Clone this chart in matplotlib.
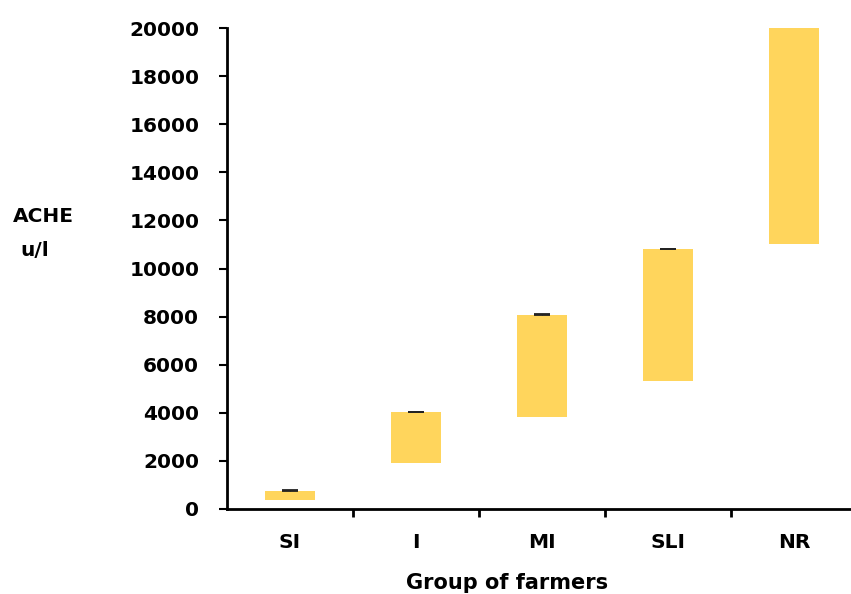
import matplotlib.pyplot as plt
import numpy as np

groups = ['SI', 'I', 'MI', 'SLI', 'NR']
low = [370, 1900, 3820, 5320, 11000]
high = [760, 4020, 8060, 10800, 20000]
err_up = [40, 30, 30, 30]  # NR has no visible cap

bar_color = '#FFD55C'

fig = plt.figure(figsize=(8.51, 5.94), dpi=100)
ax = fig.add_axes([227 / 851, 85 / 594, 624 / 851, 481 / 594])

x = np.arange(len(groups))
heights = np.array(high) - np.array(low)
ax.bar(x, heights, bottom=low, width=0.4, color=bar_color, zorder=2)
ax.errorbar(x[:4], high[:4], yerr=[np.zeros(4), err_up], fmt='none', ecolor='#222222',
            elinewidth=0.6, capsize=5.5, capthick=1.3, zorder=3)

ax.set_xlim(-0.5, -0.5 + 624 / 126)
ax.set_ylim(0, 20000)
ax.set_yticks(np.arange(0, 20001, 2000))
ax.set_xticks(x)
ax.set_xticklabels(groups)
ax.set_xticks(np.arange(0.5, len(groups) - 0.5, 1), minor=True)
ax.tick_params(axis='x', which='major', length=0, pad=17)
ax.tick_params(axis='x', which='minor', length=6, width=2, direction='out')
ax.tick_params(axis='y', length=6, width=1.5, direction='out', pad=14)

for lab in ax.get_xticklabels() + ax.get_yticklabels():
    lab.set_fontweight('bold')
    lab.set_fontsize(14.5)

for s in ['top', 'right']:
    ax.spines[s].set_visible(False)
ax.spines['left'].set_linewidth(2)
ax.spines['bottom'].set_linewidth(2)

fig.text(507 / 851, 1 - 583 / 594, 'Group of farmers', fontsize=15, fontweight='bold',
         ha='center', va='center')
fig.text(13 / 851, 1 - 217 / 594, 'ACHE', fontsize=14.5, fontweight='bold',
         ha='left', va='center')
fig.text(20 / 851, 1 - 250 / 594, 'u/l', fontsize=14.5, fontweight='bold',
         ha='left', va='center')

fig.savefig('out.png', dpi=100)
